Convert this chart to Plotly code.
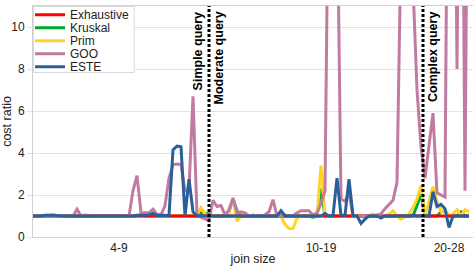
import plotly.graph_objects as go

# ---------------- data ----------------
query_index = list(range(110))

join_size_labels = ["4-9", "10-19", "20-28"]
join_size_tick_pos = [21.5, 72, 104]
group_bounds = [44, 97.5]

exhaustive = [
    1.0, 1.0, 1.0, 1.0, 1.0, 1.0, 1.0, 1.0, 1.0, 1.0,
    1.0, 1.0, 1.0, 1.0, 1.0, 1.0, 1.0, 1.0, 1.0, 1.0,
    1.0, 1.0, 1.0, 1.0, 1.0, 1.0, 1.0, 1.0, 1.0, 1.0,
    1.0, 1.0, 1.0, 1.0, 1.0, 1.0, 1.0, 1.0, 1.0, 1.0,
    1.0, 1.0, 1.0, 1.0, 1.0, 1.0, 1.0, 1.0, 1.0, 1.0,
    1.0, 1.0, 1.0, 1.0, 1.0, 1.0, 1.0, 1.0, 1.0, 1.0,
    1.0, 1.0, 1.0, 1.0, 1.0, 1.0, 1.0, 1.0, 1.0, 1.0,
    1.0, 1.0, 1.0, 1.0, 1.0, 1.0, 1.0, 1.0, 1.0, 1.0,
    1.0, 1.0, 1.0, 1.0, 1.0, 1.0, 1.0, 1.0, 1.0, 1.0,
    1.0, 1.0, 1.0, 1.0, 1.0, 1.0, 1.0, 1.0, 1.0, 1.0,
    1.0, 1.0, 1.0, 1.0, 1.0, 1.0, 1.0, 1.0, 1.0, 1.0,
]

kruskal = [
    1.0, 1.0, 1.0, 1.0, 1.0, 1.0, 1.0, 1.0, 1.0, 1.0,
    1.0, 1.0, 1.0, 1.0, 1.0, 1.0, 1.0, 1.0, 1.0, 1.0,
    1.0, 1.0, 1.0, 1.0, 1.0, 1.0, 1.0, 1.06, 1.0, 1.0,
    1.0, 1.0, 1.0, 1.0, 1.0, 1.0, 1.0, 1.0, 1.0, 1.0,
    1.0, 1.0, 1.15, 1.12, 1.1, 1.0, 1.0, 1.0, 1.0, 1.2,
    1.8, 1.25, 1.0, 1.0, 1.0, 1.0, 1.0, 1.0, 1.0, 1.0,
    1.0, 1.0, 1.0, 1.0, 1.0, 1.0, 1.0, 1.0, 1.0, 1.0,
    0.93, 1.0, 2.3, 1.0, 1.0, 1.0, 1.0, 1.0, 1.0, 1.0,
    1.0, 1.0, 1.0, 1.0, 1.0, 1.0, 1.0, 1.0, 1.0, 1.0,
    1.0, 1.0, 1.0, 1.0, 1.0, 1.0, 1.5, 2.05, 1.0, 1.0,
    1.0, 1.0, 1.2, 1.25, 1.0, 1.0, 1.0, 1.2, 1.0, 1.0,
]

prim = [
    1.0, 1.0, 1.0, 1.0, 1.0, 1.0, 1.0, 1.0, 1.0, 1.0,
    1.0, 1.0, 1.0, 1.07, 1.02, 1.0, 1.0, 1.0, 1.0, 1.0,
    1.0, 1.0, 1.0, 1.0, 1.0, 1.0, 1.0, 1.0, 1.0, 1.0,
    1.0, 1.0, 1.0, 1.0, 1.0, 1.0, 1.0, 1.0, 1.0, 1.0,
    1.0, 1.05, 1.4, 1.1, 0.95, 1.0, 1.0, 1.0, 1.0, 1.2,
    1.87, 0.75, 1.0, 1.0, 1.0, 1.0, 1.0, 1.0, 1.0, 1.0,
    1.0, 1.0, 1.0, 0.6, 0.4, 0.4, 0.9, 1.0, 1.0, 1.0,
    0.95, 1.0, 3.4, 1.05, 1.0, 1.0, 1.0, 1.0, 1.0, 1.0,
    1.0, 1.0, 1.0, 1.0, 1.0, 1.1, 1.0, 1.0, 1.0, 1.1,
    1.25, 1.0, 0.85, 0.95, 1.1, 1.4, 1.8, 2.45, 1.0, 1.7,
    2.4, 1.7, 1.2, 1.25, 1.0, 1.1, 1.3, 1.0, 1.3, 1.2,
]

goo = [
    1.0, 1.0, 1.0, 1.0, 1.0, 1.0, 1.0, 1.0, 1.0, 1.0,
    1.0, 1.32, 1.0, 1.0, 1.0, 1.0, 1.0, 1.0, 1.0, 1.0,
    1.0, 1.0, 1.0, 1.0, 1.0, 2.2, 2.92, 1.15, 1.15, 1.15,
    1.32, 1.08, 1.05, 1.5, 2.8, 3.45, 3.47, 3.45, 2.2, 2.3,
    6.7, 1.05, 0.95, 0.85, 0.78, 1.75, 1.45, 1.5, 1.05, 1.3,
    1.85, 1.15, 1.2, 1.15, 1.0, 1.05, 1.0, 1.0, 1.05, 1.2,
    1.78, 1.0, 1.0, 1.05, 1.0, 1.0, 1.15, 1.25, 1.25, 1.25,
    1.05, 1.15, 1.6, 2.2, 20.0, 25.0, 17.0, 1.8, 1.7, 2.1,
    1.0, 1.0, 1.0, 1.0, 1.0, 1.0, 1.05, 1.1, 1.35, 1.55,
    1.75, 2.6, 14.0, 30.0, 20.0, 12.0, 7.0, 4.3, 2.8, 4.3,
    5.9, 2.1, 2.0, 1.9, 30.0, 30.0, 8.0, 30.0, 2.2, 30.0,
]

este = [
    1.0, 1.0, 1.0, 1.04, 1.05, 1.05, 1.02, 1.0, 1.0, 1.0,
    1.0, 1.0, 1.0, 1.0, 1.0, 1.0, 1.0, 1.0, 1.0, 1.0,
    1.0, 1.0, 1.0, 1.0, 1.0, 1.0, 1.04, 1.04, 1.05, 1.05,
    1.12, 1.03, 1.04, 1.04, 1.02, 4.15, 4.33, 4.3, 1.0, 2.75,
    1.2, 1.0, 1.0, 1.0, 1.0, 1.0, 1.0, 1.0, 1.0, 1.0,
    1.0, 1.0, 1.0, 1.0, 1.0, 1.0, 1.0, 1.0, 1.0, 1.0,
    1.0, 1.0, 1.25, 1.0, 1.0, 1.0, 1.0, 1.0, 1.0, 1.0,
    1.0, 1.0, 1.0, 1.12, 1.0, 1.02, 2.8, 1.03, 1.03, 2.75,
    1.02, 1.0, 0.65, 0.85, 1.0, 1.0, 1.0, 0.9, 1.0, 1.0,
    1.0, 1.0, 1.0, 1.0, 1.0, 1.05, 1.0, 1.0, 1.0, 1.0,
    2.15, 1.45, 1.55, 1.35, 0.45, 1.0, 1.0, 1.0, 1.0, 1.0,
]

# ---------------- styling ----------------
FONT = "Liberation Sans, Arial, sans-serif"
GRID = "#e3e3e3"
AXIS = "#d0d0d0"

# (name, values, colour, legend id) ; drawing order: Kruskal, Prim, Exhaustive, GOO, ESTE
series = [
    ("Kruskal", kruskal, "#00a933", "legend2"),
    ("Prim", prim, "#ffd428", "legend3"),
    ("Exhaustive", exhaustive, "#ff0000", "legend"),
    ("GOO", goo, "#c27ba0", "legend4"),
    ("ESTE", este, "#2a6099", "legend5"),
]

fig = go.Figure()
for name, vals, col, leg in series:
    fig.add_trace(go.Scatter(
        x=query_index, y=vals, mode="lines", name=name,
        line=dict(color=col, width=3), legend=leg,
    ))

# group boundaries (dotted black lines)
for b in group_bounds:
    fig.add_shape(type="line", xref="x", yref="paper", x0=b, x1=b, y0=0, y1=1,
                  line=dict(color="black", width=3, dash="3px,2px"), layer="above")

ann_font = dict(family=FONT, size=12.5, color="black")
fig.add_annotation(x=group_bounds[0], xref="x", y=0.983, yref="paper",
                   text="<b>Simple query</b>", textangle=-90, showarrow=False,
                   xanchor="center", yanchor="top", xshift=-11, font=ann_font)
fig.add_annotation(x=group_bounds[0], xref="x", y=0.983, yref="paper",
                   text="<b>Moderate query</b>", textangle=-90, showarrow=False,
                   xanchor="center", yanchor="top", xshift=10, font=ann_font)
fig.add_annotation(x=group_bounds[1], xref="x", y=0.983, yref="paper",
                   text="<b>Complex query</b>", textangle=-90, showarrow=False,
                   xanchor="center", yanchor="top", xshift=10, font=ann_font)

# legend box
fig.add_shape(type="rect", xref="paper", yref="paper", x0=0.001, x1=0.23, y0=0.712, y1=0.998,
              fillcolor="white", line=dict(color="#d9d9d9", width=1), layer="above")

legend_names = ["legend", "legend2", "legend3", "legend4", "legend5"]
legend_layout = {}
for k, ln in enumerate(legend_names):
    py = 12.7 + 13.15 * k
    legend_layout[ln] = dict(
        x=-0.0068, xanchor="left", y=(237 - py) / 233, yanchor="middle",
        bgcolor="rgba(0,0,0,0)", borderwidth=0,
        font=dict(family=FONT, size=12, color="#222"),
    )

fig.update_layout(
    template="none",
    width=473, height=266,
    margin=dict(l=33, r=0, t=4, b=29),
    paper_bgcolor="white", plot_bgcolor="white",
    font=dict(family=FONT, size=12, color="#222"),
    showlegend=True,
    **legend_layout,
)

fig.update_xaxes(
    range=[0, 110], tickvals=join_size_tick_pos, ticktext=join_size_labels,
    showgrid=False, zeroline=False, showline=True, linecolor=AXIS, linewidth=1,
    mirror=True, ticks="", tickfont=dict(size=12, color="#222"),
    title=dict(text="join size", font=dict(size=12.5, color="#222"), standoff=4),
    automargin=False,
)
fig.update_yaxes(
    range=[0, 11], tickvals=[0, 2, 4, 6, 8, 10],
    showgrid=True, gridcolor=GRID, gridwidth=1,
    zeroline=True, zerolinecolor=AXIS, zerolinewidth=1,
    showline=True, linecolor=AXIS, linewidth=1,
    ticks="outside", ticklen=5, tickcolor=GRID,
    tickfont=dict(size=12, color="#222"),
    title=dict(text="cost ratio", font=dict(size=12.5, color="#222"), standoff=4),
    automargin=False,
)

fig.write_html(
    "out.html",
    config={"displayModeBar": False},
    post_script="document.body.style.margin='0';document.body.style.padding='0';",
)
